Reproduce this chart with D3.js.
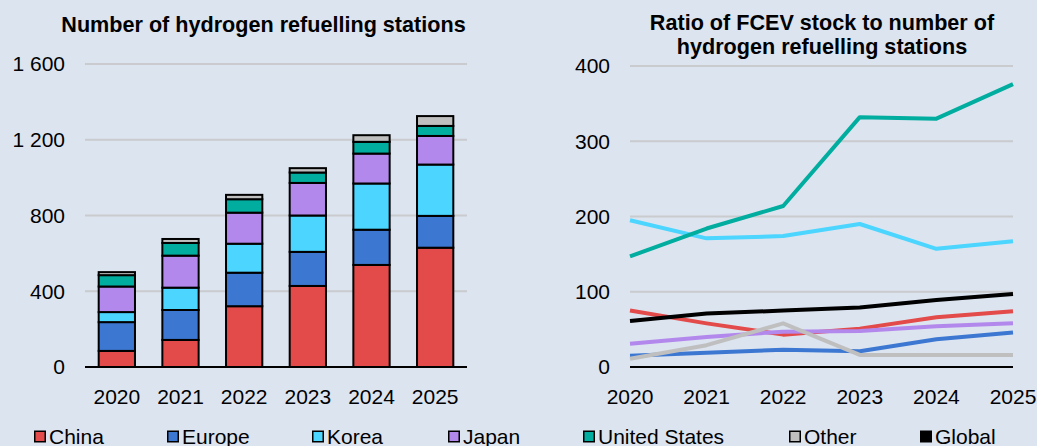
<!DOCTYPE html>
<html><head><meta charset="utf-8">
<script src="https://cdn.jsdelivr.net/npm/d3@7"></script>
<style>
html,body{margin:0;padding:0;background:#dce4f0;}
svg{display:block;font-family:"Liberation Sans",Arial,sans-serif;}
</style></head>
<body><svg id="c" width="1037" height="446"></svg>
<script>
// ---- data ----
const years = ["2020","2021","2022","2023","2024","2025"];
const seriesNames = ["China","Europe","Korea","Japan","United States","Other"];
const legendNames = ["China","Europe","Korea","Japan","United States","Other","Global"];
const colors = ["#e34a4a","#3c78d2","#4bd5ff","#b388ec","#00ad9f","#bfbfbf","#000000"];

// stations (stacked bar)
const stChina  = [85, 143, 321, 428, 539, 630];
const stEurope = [152, 158, 177, 180, 186, 168];
const stKorea  = [53, 118, 153, 192, 244, 271];
const stJapan  = [135, 169, 164, 172, 158, 151];
const stUS     = [60, 67, 71, 55, 62, 53];
const stOther  = [16, 21, 23, 23, 35, 52];

// ratio FCEV stock / stations (lines)
const rChina  = [75, 58, 43, 51, 66, 74];
const rEurope = [15, 19, 23, 21, 37, 46];
const rKorea  = [195, 171, 174, 190, 157, 167];
const rJapan  = [31, 40, 47, 48, 54, 58];
const rUS     = [147, 184, 214, 332, 330, 376];
const rOther  = [11, 29, 58, 16, 16, 16];
const rGlobal = [61, 71, 75, 79, 89, 97];

const leftTicks = [0, 400, 800, 1200, 1600];
const leftTickLabels = ["0", "400", "800", "1 200", "1 600"];
const rightTicks = [0, 100, 200, 300, 400];
const rightTickLabels = ["0", "100", "200", "300", "400"];

const titleLeft = "Number of hydrogen refuelling stations";
const titleRight = ["Ratio of FCEV stock to number of", "hydrogen refuelling stations"];

// ---- drawing ----
const svg = d3.select("#c");
const FS = 21;
const grid = "#c9cbce";
const ink = "#000";

// LEFT CHART
const xL = d3.scaleBand().domain(years).range([85, 467]).paddingInner(0.43).paddingOuter(0.215);
const yL = d3.scaleLinear().domain([0, 1600]).range([367, 64]);

svg.append("text").attr("x", 263.5).attr("y", 32).attr("text-anchor", "middle")
  .attr("font-weight", "bold").attr("font-size", 21.6).attr("fill", ink).text(titleLeft);

const gL = svg.append("g");
gL.selectAll("line.grid").data(leftTicks.filter(d => d > 0)).join("line")
  .attr("x1", 85).attr("x2", 467).attr("y1", d => yL(d)).attr("y2", d => yL(d))
  .attr("stroke", grid).attr("stroke-width", 2);
gL.selectAll("text.yt").data(leftTicks).join("text")
  .attr("x", 65).attr("y", d => yL(d)).attr("dy", "0.35em").attr("text-anchor", "end")
  .attr("font-size", FS).attr("fill", ink).text((d, i) => leftTickLabels[i]);

const table = years.map((y, i) => ({year: y, China: stChina[i], Europe: stEurope[i], Korea: stKorea[i],
  Japan: stJapan[i], "United States": stUS[i], Other: stOther[i]}));
const stacked = d3.stack().keys(seriesNames)(table);
stacked.forEach((s, si) => {
  gL.append("g").selectAll("rect").data(s).join("rect")
    .attr("x", d => xL(d.data.year)).attr("width", xL.bandwidth())
    .attr("y", d => yL(d[1])).attr("height", d => yL(d[0]) - yL(d[1]))
    .attr("fill", colors[si]).attr("stroke", "#000").attr("stroke-width", 2);
});
gL.append("line").attr("x1", 85).attr("x2", 467).attr("y1", yL(0)).attr("y2", yL(0))
  .attr("stroke", "#000").attr("stroke-width", 2.2);
gL.selectAll("text.xt").data(years).join("text")
  .attr("x", d => xL(d) + xL.bandwidth() / 2).attr("y", 403.5).attr("text-anchor", "middle")
  .attr("font-size", FS).attr("fill", ink).text(d => d);

// RIGHT CHART
const xR = d3.scalePoint().domain(years).range([630, 1013]);
const yR = d3.scaleLinear().domain([0, 400]).range([367, 66]);

titleRight.forEach((t, i) => {
  svg.append("text").attr("x", 822).attr("y", 30 + i * 24).attr("text-anchor", "middle")
    .attr("font-weight", "bold").attr("font-size", 21.6).attr("fill", ink).text(t);
});
const gR = svg.append("g");
gR.selectAll("line.grid").data(rightTicks.filter(d => d > 0)).join("line")
  .attr("x1", 630).attr("x2", 1013).attr("y1", d => yR(d)).attr("y2", d => yR(d))
  .attr("stroke", grid).attr("stroke-width", 2);
gR.selectAll("text.yt").data(rightTicks).join("text")
  .attr("x", 610).attr("y", d => yR(d)).attr("dy", "0.35em").attr("text-anchor", "end")
  .attr("font-size", FS).attr("fill", ink).text((d, i) => rightTickLabels[i]);
gR.append("line").attr("x1", 630).attr("x2", 1013).attr("y1", yR(0)).attr("y2", yR(0))
  .attr("stroke", "#000").attr("stroke-width", 2.2);

const lineSeries = [rChina, rEurope, rKorea, rJapan, rUS, rOther, rGlobal];
const line = d3.line().x((d, i) => xR(years[i])).y(d => yR(d));
lineSeries.forEach((s, si) => {
  gR.append("path").datum(s).attr("d", line).attr("fill", "none")
    .attr("stroke", colors[si]).attr("stroke-width", 4).attr("stroke-linejoin", "round");
});
gR.selectAll("text.xt").data(years).join("text")
  .attr("x", d => xR(d)).attr("y", 403.5).attr("text-anchor", "middle")
  .attr("font-size", FS).attr("fill", ink).text(d => d);

// LEGEND
const legendX = [34, 167, 312, 448, 583, 789, 920];
const lg = svg.append("g");
legendNames.forEach((n, i) => {
  const g = lg.append("g").attr("transform", `translate(${legendX[i]},0)`);
  g.append("rect").attr("x", 0.75).attr("y", 431.25).attr("width", 10.5).attr("height", 10.5)
    .attr("fill", colors[i]).attr("stroke", "#000").attr("stroke-width", 1.5);
  g.append("text").attr("x", 15).attr("y", 443.5).attr("font-size", FS).attr("fill", ink).text(n);
});
</script></body></html>
